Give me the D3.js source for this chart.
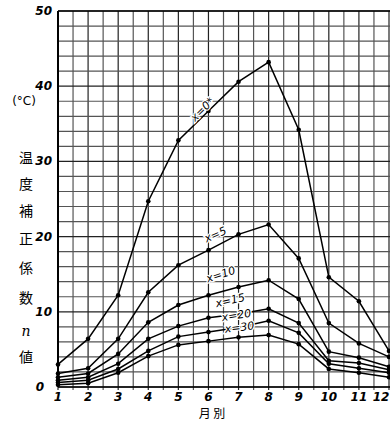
<!DOCTYPE html>
<html><head><meta charset="utf-8">
<script src="https://cdn.jsdelivr.net/npm/d3@7"></script>
<style>body{margin:0;background:#fff}svg{display:block}</style>
</head><body>
<svg id="c" width="390" height="421"></svg>
<script>
const months = [1,2,3,4,5,6,7,8,9,10,11,12];
const seriesNames = ["x=0*","x=5","x=10","x=15","x=20","x=30"];
const s0  = [3.0, 6.4, 12.2, 24.7, 32.8, 36.7, 40.6, 43.2, 34.2, 14.6, 11.4, 4.8];
const s5  = [1.8, 2.5, 6.4, 12.6, 16.2, 18.2, 20.3, 21.6, 17.1, 8.5, 5.8, 4.0];
const s10 = [1.3, 1.8, 4.4, 8.6, 10.9, 12.2, 13.3, 14.2, 11.7, 4.7, 3.9, 2.7];
const s15 = [0.9, 1.3, 3.1, 6.4, 8.1, 9.2, 9.7, 10.4, 8.5, 3.5, 3.2, 2.3];
const s20 = [0.6, 0.9, 2.4, 4.8, 6.7, 7.3, 7.9, 8.8, 7.2, 3.1, 2.5, 1.9];
const s30 = [0.3, 0.5, 1.9, 4.1, 5.6, 6.1, 6.6, 6.9, 5.7, 2.4, 1.9, 1.3];
const yTicks = [0,10,20,30,40,50];
const yTitle = ["温","度","補","正","係","数","n","値"];
const unitLabel = "(°C)";
const xTitle = "月 別";

const all = [s0,s5,s10,s15,s20,s30];
const svg = d3.select("#c");
const x = d3.scaleLinear().domain([1,12]).range([58,389]);
const y = d3.scaleLinear().domain([0,50]).range([387,11]);

// grid
const g = svg.append("g");
const xGrid = d3.range(1, 12.6, 0.5);
const yGrid = d3.range(0, 50.1, 2);
g.selectAll(".vg").data(xGrid).join("line")
  .attr("x1", d=>x(d)).attr("x2", d=>x(d)).attr("y1", y(50)).attr("y2", y(0)+3)
  .attr("stroke", (d,i)=> i%2===0 ? "#222" : "#555").attr("stroke-width", 1.2);
g.selectAll(".hg").data(yGrid).join("line")
  .attr("x1", x(1)).attr("x2", 395).attr("y1", d=>y(d)).attr("y2", d=>y(d))
  .attr("stroke", (d,i)=> i%5===0 ? "#222" : "#555").attr("stroke-width", 1.2);
// frame
g.append("line").attr("x1",x(1)).attr("x2",x(1)).attr("y1",y(50)).attr("y2",y(0)).attr("stroke","#000").attr("stroke-width",2);
g.append("line").attr("x1",x(1)).attr("x2",395).attr("y1",y(0)).attr("y2",y(0)).attr("stroke","#000").attr("stroke-width",1.6);
g.append("line").attr("x1",x(1)).attr("x2",395).attr("y1",y(50)).attr("y2",y(50)).attr("stroke","#000").attr("stroke-width",1.6);

// axes (text)
const font = "DejaVu Sans";
svg.append("g").selectAll("text").data(yTicks).join("text")
  .attr("x", d=> d===0 ? 44 : 52).attr("y", d=>y(d)+4)
  .attr("text-anchor","end").attr("font-family",font).attr("font-style","italic")
  .attr("font-weight","bold").attr("font-size",12).text(d=>d);
svg.append("g").selectAll("text").data(months).join("text")
  .attr("x", d=> d===12 ? 381 : x(d)).attr("y", 401)
  .attr("text-anchor","middle").attr("font-family",font).attr("font-style","italic")
  .attr("font-weight","bold").attr("font-size",12).text(d=>d);

svg.append("text").attr("x",24).attr("y",105).attr("text-anchor","middle")
  .attr("font-family",font).attr("font-size",12).text(unitLabel);
const ty = [158,184,211,239,268,298,331,357];
svg.append("g").selectAll("text").data(yTitle).join("text")
  .attr("x",26).attr("y",(d,i)=>ty[i]+5).attr("text-anchor","middle")
  .attr("font-family", d=> d==="n" ? "DejaVu Serif" : "Noto Sans CJK JP")
  .attr("font-style", d=> d==="n" ? "italic" : "normal")
  .attr("font-size",14).text(d=>d);
svg.append("text").attr("x",212).attr("y",418).attr("text-anchor","middle")
  .attr("font-family","Noto Sans CJK JP").attr("font-size",12).attr("xml:space","preserve").text(xTitle);

// lines
const line = d3.line().x((d,i)=>x(months[i])).y(d=>y(d));
const lg = svg.append("g");
all.forEach(s=>{
  lg.append("path").attr("d", line(s)).attr("fill","none").attr("stroke","#000").attr("stroke-width",1.5);
  lg.selectAll(null).data(s).join("circle").attr("cx",(d,i)=>x(months[i])).attr("cy",d=>y(d)).attr("r",2.3).attr("fill","#000");
});

// series labels
const labelPos = [[205,112,-45],[217,238,-24],[222,278,-18],[231,304,-13],[237,319,-9],[240,331,-7]];
svg.append("g").selectAll("text").data(seriesNames).join("text")
  .attr("transform",(d,i)=>`translate(${labelPos[i][0]},${labelPos[i][1]}) rotate(${labelPos[i][2]})`)
  .attr("text-anchor","middle").attr("font-family",font).attr("font-style","italic")
  .attr("font-size",11).attr("stroke","#fff").attr("stroke-width",2.5).attr("paint-order","stroke")
  .attr("fill","#000").text(d=>d);
</script>
</body></html>
